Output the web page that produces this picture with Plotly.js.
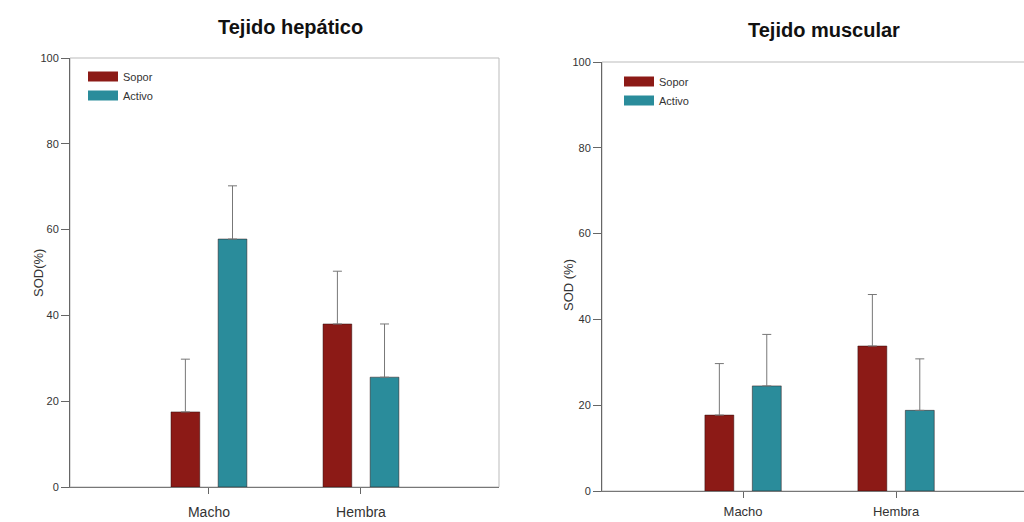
<!DOCTYPE html>
<html>
<head>
<meta charset="utf-8">
<script src="https://cdn.plot.ly/plotly-3.0.1.min.js"></script>
<style>
html,body{margin:0;padding:0;background:#fff;overflow:hidden;width:1024px;height:522px;}
#chart{width:1040px;height:522px;}
</style>
</head>
<body>
<div id="chart"></div>
<script>
// ---- data ----
const categories = ['Macho', 'Hembra'];
const seriesNames = ['Sopor', 'Activo'];
const hepSopor = [17.5, 38.0];
const hepActivo = [57.8, 25.6];
const hepSoporErr = [12.3, 12.3];
const hepActivoErr = [12.4, 12.4];
const musSopor = [17.7, 33.8];
const musActivo = [24.5, 18.8];
const musSoporErr = [12.0, 12.0];
const musActivoErr = [12.0, 12.0];
const yTicks = [0, 20, 40, 60, 80, 100];
const panelTitles = ['Tejido hepático', 'Tejido muscular'];
const yTitles = ['SOD(%)', 'SOD (%)'];

// ---- styles ----
const RED = '#8c1a16';
const TEAL = '#2a8c9b';
const FONT = 'Liberation Sans, Arial, sans-serif';
const W = 1040, H = 522;

function bar(y, err, name, color, xa, ya) {
  return {
    type: 'bar', x: categories, y: y, name: name,
    xaxis: xa, yaxis: ya, showlegend: false,
    marker: {color: color, line: {color: 'rgba(40,10,10,0.6)', width: 0.8}},
    error_y: {type: 'data', array: err, arrayminus: err.map(() => 0), symmetric: false,
              color: '#777', thickness: 1, width: 4.5},
    hoverinfo: 'x+y'
  };
}
// legend keys (wide rectangular swatches like the original)
function key(name, color, xa, ya, legend) {
  return {
    type: 'scatter', mode: 'lines', x: [null], y: [null], name: name,
    xaxis: xa, yaxis: ya, legend: legend, showlegend: true,
    line: {color: color, width: 12}, hoverinfo: 'skip'
  };
}

const data = [
  bar(hepSopor, hepSoporErr, seriesNames[0], RED, 'x', 'y'),
  bar(hepActivo, hepActivoErr, seriesNames[1], TEAL, 'x', 'y'),
  bar(musSopor, musSoporErr, seriesNames[0], RED, 'x2', 'y2'),
  bar(musActivo, musActivoErr, seriesNames[1], TEAL, 'x2', 'y2'),
  key(seriesNames[0], RED, 'x', 'y', 'legend'),
  key(seriesNames[1], TEAL, 'x', 'y', 'legend'),
  key(seriesNames[0], RED, 'x2', 'y2', 'legend2'),
  key(seriesNames[1], TEAL, 'x2', 'y2', 'legend2')
];

function xax(domain, range, anchor, standoff, size) {
  return {
    domain: domain, range: range, anchor: anchor, type: 'category',
    showline: true, linecolor: '#777', linewidth: 1,
    ticks: 'outside', ticklen: 6, tickcolor: '#666', tickwidth: 1,
    ticklabelstandoff: standoff,
    showgrid: false, zeroline: false,
    tickfont: {family: FONT, size: size, color: '#333'}, fixedrange: true
  };
}
function yax(domain, anchor) {
  return {
    domain: domain, range: [0, 100], anchor: anchor,
    tickmode: 'array', tickvals: yTicks, ticktext: yTicks.map(String),
    showline: true, linecolor: '#666', linewidth: 1,
    ticks: 'outside', ticklen: 8, tickcolor: '#666', tickwidth: 1,
    showgrid: false, zeroline: false,
    tickfont: {family: FONT, size: 11, color: '#333'},
    fixedrange: true
  };
}
function legendCfg(x, yTop) {
  return {x: x / W, y: 1 - yTop / H, xanchor: 'left', yanchor: 'top',
          bgcolor: 'rgba(0,0,0,0)', font: {family: FONT, size: 11, color: '#333'},
          tracegroupgap: 0, traceorder: 'normal', itemwidth: 30};
}

const layout = {
  width: W, height: H,
  margin: {l: 0, r: 0, t: 0, b: 0},
  paper_bgcolor: '#fff', plot_bgcolor: '#fff',
  barmode: 'group', bargap: 0.38, bargroupgap: 0.39,
  xaxis: xax([70 / W, 499 / W], [-0.914, 1.908], 'y', 6, 14),
  yaxis: yax([1 - 487 / H, 1 - 58 / H], 'x'),
  xaxis2: xax([602 / W, 1035 / W], [-0.922, 1.908], 'y2', 2, 13),
  yaxis2: yax([1 - 491 / H, 1 - 62 / H], 'x2'),
  legend: legendCfg(83, 62),
  legend2: legendCfg(619, 67),
  shapes: [
    {type: 'rect', xref: 'x domain', yref: 'y domain', x0: 0, x1: 1, y0: 0, y1: 1,
     line: {color: '#bbb', width: 1}, layer: 'below'},
    {type: 'rect', xref: 'x2 domain', yref: 'y2 domain', x0: 0, x1: 1, y0: 0, y1: 1,
     line: {color: '#bbb', width: 1}, layer: 'below'}
  ],
  annotations: [
    {text: '<b>' + panelTitles[0] + '</b>', xref: 'paper', yref: 'paper',
     x: 290 / W, y: 1 - 27 / H, xanchor: 'center', yanchor: 'middle', showarrow: false,
     font: {family: FONT, size: 20, color: '#111'}},
    {text: '<b>' + panelTitles[1] + '</b>', xref: 'paper', yref: 'paper',
     x: 824 / W, y: 1 - 30 / H, xanchor: 'center', yanchor: 'middle', showarrow: false,
     font: {family: FONT, size: 20, color: '#111'}},
    {text: yTitles[0], xref: 'paper', yref: 'paper', textangle: -90,
     x: 38 / W, y: 1 - 273 / H, xanchor: 'center', yanchor: 'middle', showarrow: false,
     font: {family: FONT, size: 13, color: '#333'}},
    {text: yTitles[1], xref: 'paper', yref: 'paper', textangle: -90,
     x: 568 / W, y: 1 - 285 / H, xanchor: 'center', yanchor: 'middle', showarrow: false,
     font: {family: FONT, size: 13, color: '#333'}}
  ],
  showlegend: true
};

Plotly.newPlot('chart', data, layout, {displayModeBar: false, staticPlot: true});
</script>
</body>
</html>
